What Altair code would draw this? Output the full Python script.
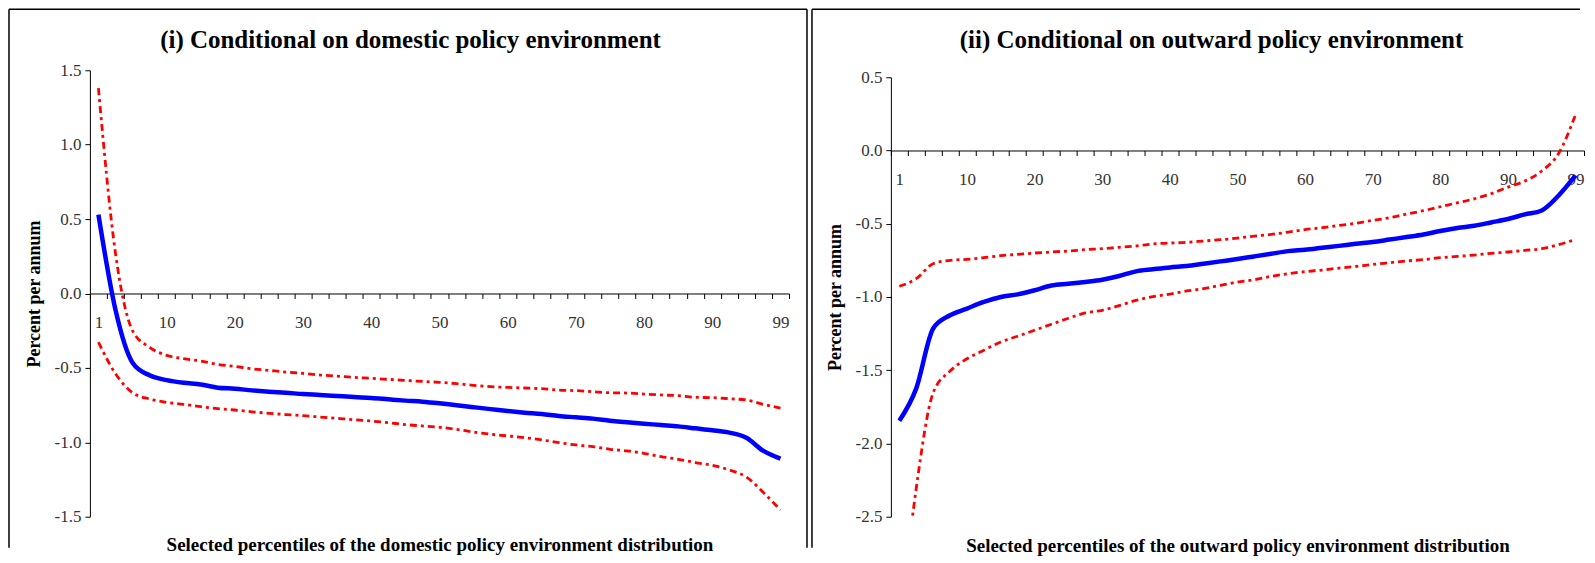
import altair as alt
import pandas as pd

# Category axis (percentiles)
percentiles = [1, 2.5, 5, 7.5, 10, 12.5, 15, 17.5, 20, 22.5, 25, 27.5, 30, 32.5, 35,
               37.5, 40, 42.5, 45, 47.5, 50, 52.5, 55, 57.5, 60, 62.5, 65, 67.5, 70,
               72.5, 75, 77.5, 80, 82.5, 85, 87.5, 90, 92.5, 95, 97.5, 99]

# Panel (i): domestic policy environment
dom_est = [0.53, -0.11, -0.465, -0.55, -0.582, -0.60, -0.611, -0.633, -0.64, -0.651,
           -0.66, -0.667, -0.676, -0.682, -0.689, -0.696, -0.702, -0.711, -0.72, -0.727,
           -0.738, -0.751, -0.764, -0.777, -0.79, -0.801, -0.81, -0.823, -0.832, -0.841,
           -0.855, -0.866, -0.875, -0.884, -0.893, -0.906, -0.919, -0.935, -0.97, -1.058, -1.11]
dom_upper = [1.38, 0.27, -0.25, -0.362, -0.416, -0.438, -0.454, -0.477, -0.49, -0.506,
             -0.517, -0.528, -0.537, -0.548, -0.555, -0.564, -0.57, -0.577, -0.584, -0.591,
             -0.597, -0.606, -0.617, -0.626, -0.631, -0.635, -0.64, -0.649, -0.653, -0.66,
             -0.667, -0.669, -0.676, -0.682, -0.687, -0.698, -0.70, -0.707, -0.716, -0.745, -0.77]
dom_lower = [-0.327, -0.539, -0.667, -0.709, -0.732, -0.745, -0.761, -0.774, -0.783, -0.795,
             -0.805, -0.814, -0.821, -0.83, -0.839, -0.848, -0.857, -0.868, -0.881, -0.89,
             -0.899, -0.913, -0.931, -0.946, -0.957, -0.969, -0.984, -1.002, -1.018, -1.029,
             -1.047, -1.058, -1.074, -1.096, -1.114, -1.136, -1.154, -1.186, -1.233, -1.338, -1.455]

# Panel (ii): outward policy environment
out_est = [-1.845, -1.624, -1.215, -1.125, -1.079, -1.034, -1.0, -0.982, -0.954, -0.922,
           -0.91, -0.897, -0.882, -0.857, -0.825, -0.811, -0.798, -0.789, -0.773, -0.757,
           -0.741, -0.723, -0.705, -0.687, -0.677, -0.664, -0.651, -0.637, -0.625, -0.608,
           -0.591, -0.573, -0.55, -0.529, -0.514, -0.491, -0.468, -0.436, -0.409, -0.307, -0.17]
out_upper = [-0.927, -0.875, -0.773, -0.75, -0.743, -0.732, -0.718, -0.709, -0.70, -0.693,
             -0.686, -0.677, -0.67, -0.661, -0.652, -0.638, -0.632, -0.627, -0.618, -0.609,
             -0.598, -0.584, -0.573, -0.557, -0.54, -0.527, -0.511, -0.497, -0.477, -0.459,
             -0.434, -0.411, -0.384, -0.357, -0.33, -0.295, -0.25, -0.209, -0.14, -0.02, 0.245]
out_lower = [-3.3, -2.306, -1.654, -1.506, -1.422, -1.363, -1.307, -1.268, -1.227, -1.186,
             -1.145, -1.109, -1.091, -1.059, -1.023, -0.998, -0.98, -0.959, -0.943, -0.92,
             -0.898, -0.882, -0.859, -0.841, -0.827, -0.816, -0.803, -0.792, -0.778, -0.766,
             -0.754, -0.745, -0.732, -0.723, -0.714, -0.702, -0.693, -0.682, -0.67, -0.643, -0.607]

SERIF = "Liberation Serif"
LABEL_EXPR = "(datum.value == 1 || datum.value == 99 || datum.value % 10 == 0) ? datum.label : ''"
Y_LABEL_EXPR = "datum.value < 0 ? '-' + format(-datum.value, '.1f') : format(datum.value, '.1f')"

HEIGHT = 447


def panel(title, xtitle, est, upper, lower, domain, yrange, yvals, width,
          axis_offset, xtitle_pad, frame_right, draw_right, title_dx):
    df = pd.DataFrame({
        "pct": percentiles * 3,
        "series": ["est"] * len(est) + ["upper"] * len(upper) + ["lower"] * len(lower),
        "value": est + upper + lower,
    })
    X = alt.X("pct:O",
              scale=alt.Scale(type="band", paddingInner=0, paddingOuter=0),
              bandPosition=0.5,
              axis=alt.Axis(title=xtitle, offset=axis_offset, tickBand="extent",
                            labelExpr=LABEL_EXPR, labelAngle=0, labelOverlap=False,
                            tickSize=5, tickColor="black", domainColor="black",
                            labelPadding=16, labelFont=SERIF, labelFontSize=17,
                            labelColor="#333333", titleFont=SERIF, titleFontSize=19,
                            titleFontWeight="bold", titleColor="black",
                            titlePadding=xtitle_pad, grid=False))
    Y = alt.Y("value:Q",
              scale=alt.Scale(domain=domain, range=yrange, nice=False, zero=False),
              axis=alt.Axis(title="Percent per annum", values=yvals, labelExpr=Y_LABEL_EXPR,
                            tickSize=5, tickColor="black", domainColor="black",
                            labelPadding=4, labelFont=SERIF, labelFontSize=17,
                            labelColor="#333333", titleFont=SERIF, titleFontSize=18,
                            titleFontWeight="bold", titleColor="black",
                            titlePadding=11, grid=False))
    base = alt.Chart(df)
    red_dash = [7, 4, 3, 4]
    upper_l = base.transform_filter(alt.datum.series == "upper").mark_line(
        color="#FF0000", strokeWidth=2.8, strokeDash=red_dash, interpolate="monotone",
        clip=True).encode(x=X, y=Y)
    lower_l = base.transform_filter(alt.datum.series == "lower").mark_line(
        color="#FF0000", strokeWidth=2.8, strokeDash=red_dash, interpolate="monotone",
        clip=True).encode(x=X, y=Y)
    est_l = base.transform_filter(alt.datum.series == "est").mark_line(
        color="#0000FF", strokeWidth=4.5, interpolate="monotone",
        clip=True).encode(x=X, y=Y)

    fr = alt.Chart(pd.DataFrame({"k": [0]}))
    frame_left, frame_top, frame_bottom = -81 if draw_right else -79, -61, 478
    top = fr.mark_rule(color="black", strokeWidth=1.5).encode(
        x=alt.value(frame_left), x2=alt.value(frame_right), y=alt.value(frame_top))
    left = fr.mark_rule(color="black", strokeWidth=1.5).encode(
        x=alt.value(frame_left), y=alt.value(frame_top), y2=alt.value(frame_bottom))
    layers = [top, left]
    if draw_right:
        right = fr.mark_rule(color="black", strokeWidth=1.5).encode(
            x=alt.value(frame_right), y=alt.value(frame_top), y2=alt.value(frame_bottom))
        layers.append(right)
    layers += [upper_l, lower_l, est_l]
    return alt.layer(*layers).properties(
        width=width, height=HEIGHT,
        title=alt.TitleParams(text=title, font=SERIF, fontSize=25, fontWeight="bold",
                              color="black", anchor="middle", frame="group",
                              offset=-64, baseline="alphabetic", dx=title_dx))


left_panel = panel("(i) Conditional on domestic policy environment",
                   "Selected percentiles of the domestic policy environment distribution",
                   dom_est, dom_upper, dom_lower, [-1.5, 1.5], [HEIGHT, 0],
                   [-1.5, -1.0, -0.5, 0.0, 0.5, 1.0, 1.5], 700,
                   -223.5, 205, 718, True, -29)
right_panel = panel("(ii) Conditional on outward policy environment",
                    "Selected percentiles of the outward policy environment distribution",
                    out_est, out_upper, out_lower, [-2.5, 0.5], [HEIGHT, 7],
                    [-2.5, -2.0, -1.5, -1.0, -0.5, 0.0, 0.5], 694,
                    -366.67, 350, 690, False, -26)

chart = alt.hconcat(left_panel, right_panel, spacing=3).properties(
    padding={"left": 0, "top": 0, "right": 2, "bottom": 2}
).configure(background="white").configure_view(stroke=None)

chart.save("out.html", embed_options={"renderer": "svg", "actions": False})
